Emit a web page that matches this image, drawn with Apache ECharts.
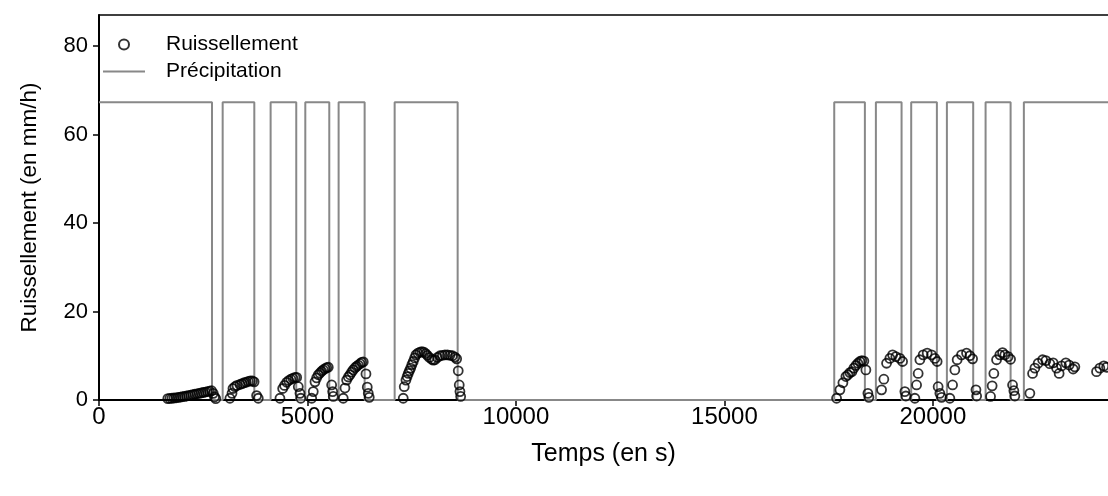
<!DOCTYPE html>
<html>
<head>
<meta charset="utf-8">
<script src="https://cdn.jsdelivr.net/npm/echarts@6/dist/echarts.min.js"></script>
<style>html,body{margin:0;padding:0;background:#fff}#c{width:1108px;height:496px}</style>
</head>
<body>
<div id="c"></div>
<script>
// Precipitation pulses (s) and intensity (mm/h)
const rainOn  = [0, 2966, 4116, 4948, 5747, 7091, 17634, 18633, 19480, 20336, 21264, 22182];
const rainOff = [2710, 3725, 4731, 5523, 6371, 8602, 18369, 19249, 20096, 20967, 21864, 24200];
const rainLevel = 67.3;

// Runoff observations: time (s) and value (mm/h)
const runoffT = [
  1650,1700,1750,1800,1850,1900,1950,2000,2050,2100,2150,2200,2250,2300,2350,2400,2450,2500,2550,2600,2650,2700,2740,2770,2800,
  3140,3190,3213,3260,3310,3380,3430,3480,3530,3580,3630,3680,3720,3780,3820,
  4340,4405,4450,4501,4550,4600,4650,4700,4741,4780,4820,4840,
  5101,5139,5180,5220,5259,5300,5340,5379,5420,5460,5499,5580,5604,5619,
  5858,5899,5939,5980,6019,6060,6098,6140,6180,6218,6260,6300,6338,6403,6434,6458,6482,
  7297,7321,7362,7390,7417,7445,7475,7505,7537,7570,7602,7650,7698,7745,7794,7835,7873,7925,7978,8017,8057,8117,8177,8237,8297,8357,8417,8477,8537,8578,8616,8640,8657,8674,
  17690,17770,17842,17914,17962,18010,18058,18105,18153,18201,18249,18297,18345,18393,18441,18465,
  18769,18824,18889,18968,19033,19112,19208,19273,19328,19352,
  19568,19609,19647,19688,19767,19863,19968,20047,20102,20126,20167,20208,
  20407,20472,20527,20582,20687,20807,20887,20952,21033,21049,
  21383,21421,21462,21527,21606,21671,21726,21805,21863,21911,21942,21966,
  22326,22391,22446,22525,22631,22710,22805,22884,22966,23028,23086,23189,23268,23364,23405,23925,24004,24100,24165
];
const runoffV = [
  0.3,0.35,0.4,0.45,0.5,0.6,0.65,0.75,0.8,0.9,1.0,1.1,1.2,1.3,1.4,1.5,1.6,1.7,1.8,1.9,2.0,2.1,1.5,0.7,0.3,
  0.4,1.5,2.6,3.0,3.3,3.5,3.7,3.9,4.0,4.2,4.3,4.3,4.1,1.0,0.4,
  0.4,2.6,3.3,4.0,4.4,4.7,4.9,5.1,5.1,3.0,1.5,0.4,
  0.4,1.9,4.1,5.0,5.7,6.1,6.5,6.8,7.1,7.3,7.4,3.4,1.9,0.8,
  0.4,2.7,4.5,5.2,5.7,6.3,6.8,7.3,7.6,7.9,8.2,8.5,8.6,5.9,2.9,1.5,0.6,
  0.4,3.0,4.5,5.3,6.0,6.6,7.2,8.0,8.7,9.5,10.2,10.6,10.8,10.9,10.8,10.5,10.1,9.6,9.2,9.0,9.1,9.6,10.0,10.1,10.2,10.2,10.1,10.0,9.7,9.3,6.6,3.4,1.9,0.8,
  0.4,2.3,3.9,5.3,5.7,6.2,6.4,7.2,7.8,8.3,8.7,8.9,8.8,6.8,1.5,0.6,
  2.3,4.7,8.3,9.4,10.2,9.8,9.4,8.7,1.9,0.9,
  0.4,3.4,6.0,9.1,10.2,10.6,10.2,9.4,8.7,3.0,1.5,0.6,
  0.4,3.4,6.8,9.1,10.2,10.6,10.0,9.3,2.3,0.9,
  0.8,3.2,6.0,9.1,10.2,10.7,10.2,9.8,9.2,3.4,2.1,0.9,
  1.5,6.0,7.2,8.3,9.1,8.9,8.2,8.4,7.2,6.0,7.7,8.4,7.9,7.0,7.5,6.4,7.2,7.7,7.4
];

const xTicks = [0, 5000, 10000, 15000, 20000];
const yTicks = [0, 20, 40, 60, 80];

// Build step line for precipitation
const rainLine = [];
for (let i = 0; i < rainOn.length; i++) {
  if (i > 0) rainLine.push([rainOn[i], 0]);
  rainLine.push([rainOn[i], rainLevel]);
  rainLine.push([rainOff[i], rainLevel]);
  if (i < rainOn.length - 1) rainLine.push([rainOff[i], 0]);
}
const runoff = runoffT.map((t, i) => [t, runoffV[i]]);

const FONT = 'Liberation Sans, Arial, sans-serif';
const legendText = {fontFamily: FONT, fontSize: 21, color: '#000', padding: [0, 0, 0, 16]};
const chart = echarts.init(document.getElementById('c'), null, {renderer: 'canvas'});
chart.setOption({
  animation: false,
  backgroundColor: '#fff',
  grid: {left: 99, right: 0, top: 15, bottom: 96, containLabel: false},
  legend: [{
    orient: 'vertical', left: 118, top: 34, padding: 0, itemWidth: 42, itemHeight: 10,
    selectedMode: false, textStyle: legendText,
    data: [{name: 'Ruissellement', icon: 'circle', itemStyle: {color: '#fff', borderColor: '#000', borderWidth: 2}}]
  }, {
    orient: 'vertical', left: 103, top: 61, padding: 0, itemWidth: 42, itemHeight: 2,
    selectedMode: false, textStyle: legendText,
    data: [{name: 'Précipitation', icon: 'rect', itemStyle: {color: '#888', borderWidth: 0}}]
  }],
  xAxis: [{
    type: 'value', min: 0, max: 24200, interval: 5000,
    name: 'Temps (en s)', nameLocation: 'middle', nameGap: 42,
    nameTextStyle: {fontFamily: FONT, fontSize: 25, color: '#000'},
    axisLine: {lineStyle: {color: '#000', width: 2}},
    axisTick: {length: 6, lineStyle: {color: '#000', width: 1.5}},
    axisLabel: {fontFamily: FONT, fontSize: 24, color: '#000', margin: 5, showMaxLabel: false,
      formatter: v => xTicks.includes(v) ? String(v) : ''},
    splitLine: {show: false}
  }, {
    type: 'value', min: 0, max: 24200, position: 'top',
    axisLine: {show: true, lineStyle: {color: '#000', width: 1.5}},
    axisTick: {show: false}, axisLabel: {show: false}, splitLine: {show: false}
  }],
  yAxis: {
    type: 'value', min: 0, max: 87, interval: 20,
    name: 'Ruissellement (en mm/h)', nameLocation: 'middle', nameGap: 58,
    nameTextStyle: {fontFamily: FONT, fontSize: 22.5, color: '#000'},
    axisLine: {show: true, lineStyle: {color: '#000', width: 2}},
    axisTick: {show: true, length: 6, lineStyle: {color: '#000', width: 1.5}},
    axisLabel: {fontFamily: FONT, fontSize: 22, color: '#000', margin: 11, showMaxLabel: false,
      formatter: v => yTicks.includes(v) ? String(v) : ''},
    splitLine: {show: false}
  },
  series: [{
    name: 'Précipitation', type: 'line', data: rainLine, symbol: 'none',
    lineStyle: {color: '#888', width: 2}, itemStyle: {color: '#888'}, z: 1
  }, {
    name: 'Ruissellement', type: 'scatter', data: runoff, symbol: 'circle', symbolSize: 9,
    itemStyle: {color: 'rgba(255,255,255,0)', borderColor: '#000', borderWidth: 1.8}, z: 3
  }]
});
</script>
</body>
</html>
